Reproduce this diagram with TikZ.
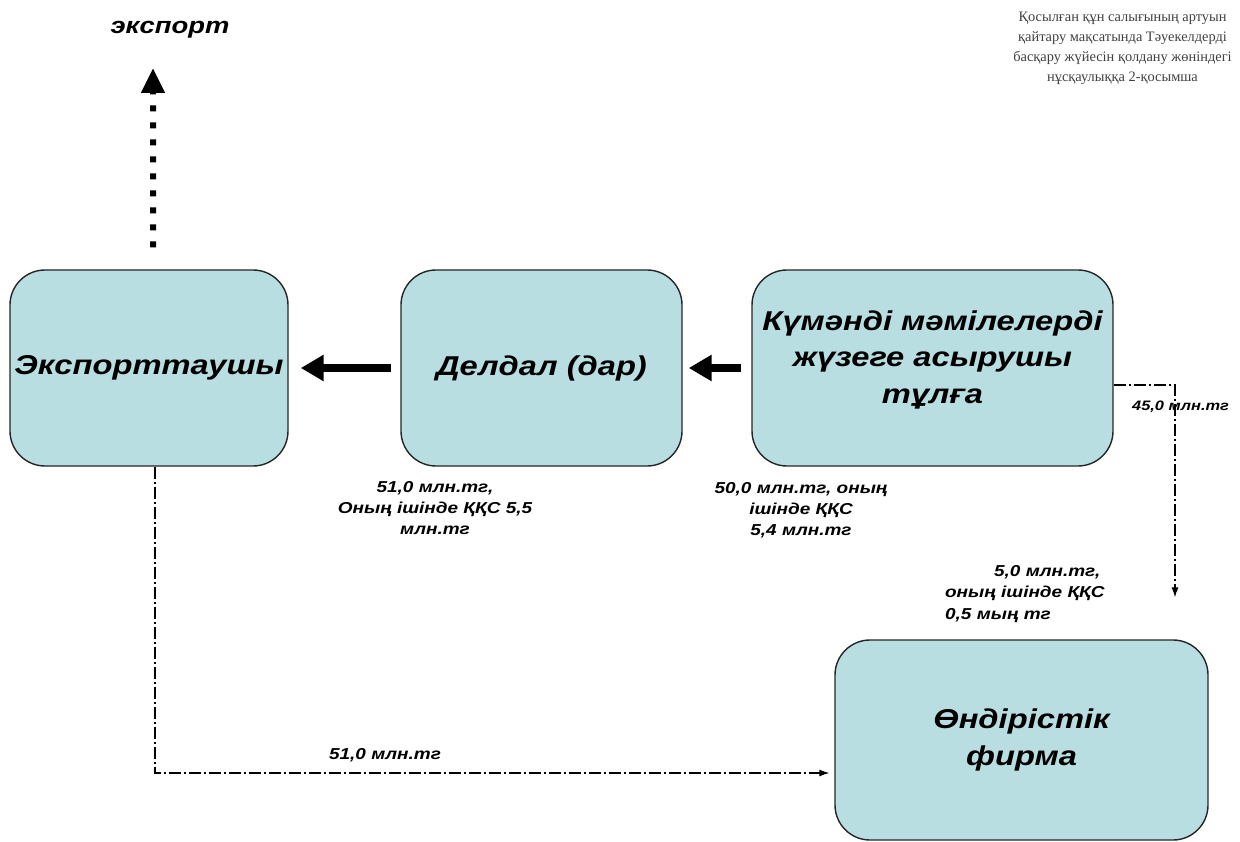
\documentclass[tikz,border=0pt]{standalone}
\usepackage{fontspec}
\setmainfont{Liberation Sans}[FakeStretch=1.2]
\newfontfamily\notefont{Liberation Serif}
\usetikzlibrary{arrows.meta}
\definecolor{boxfill}{RGB}{184,222,226}

\begin{document}
\begin{tikzpicture}[
    box/.style={draw=black!85, line width=0.8pt, fill=boxfill, rounded corners=0.7cm,
      font=\fontsize{15.5}{21}\selectfont\bfseries\itshape, align=center, inner sep=0pt},
    sum/.style={font=\fontsize{9}{12}\selectfont\bfseries\itshape, align=center, inner sep=1pt},
    bigarr/.style={line width=4pt, -{Triangle[length=0.46cm,width=0.5cm]}},
    flow/.style={line width=0.6pt, dash pattern=on 0.24cm off 0.06cm on 0.04cm off 0.06cm,
      -{Latex[length=0.2cm,width=0.14cm]}}
  ]
    \useasboundingbox (0,0) rectangle (24.8,16.82);

    % Блоктар
    \node[box, minimum width=5.56cm, minimum height=3.92cm] (exporter) at (2.98,9.46) {Экспорттаушы};
    \node[box, minimum width=5.62cm, minimum height=3.92cm] (broker) at (10.83,9.46) {Делдал (дар)};
    \node[box, minimum width=7.22cm, minimum height=3.92cm] (dubious) at (18.65,9.46) {Күмәнді мәмілелерді\\жүзеге асырушы\\тұлға\\[-0.3cm]};
    \node[box, minimum width=7.46cm, minimum height=4.0cm] (firm) at (20.43,2.02) {Өндірістік\\фирма};

    % Экспорт
    \node[font=\fontsize{13}{15}\selectfont\bfseries\itshape] (exportlbl) at (3.4,16.22) {экспорт};
    \coordinate (exporttip) at (3.06,15.46);

    % Тауар ағыны
    \draw[bigarr, shorten <=0.18cm, shorten >=0.24cm] (broker.west) -- (exporter.east);
    \draw[bigarr, shorten <=0.2cm, shorten >=0.12cm] (dubious.west) -- (broker.east);
    \draw[line width=0.12cm, dash pattern=on 0.12cm off 0.22cm, -{Triangle[length=0.5cm,width=0.45cm]},
      shorten <=0.44cm] ([xshift=0.08cm]exporter.north) -- (exporttip);

    % Ақша ағыны
    \draw[flow, shorten >=0.84cm] ([yshift=-0.34cm]dubious.east) -| ([xshift=3.07cm]firm.north);
    \draw[flow, shorten >=0.1cm] ([xshift=0.12cm]exporter.south) |- ([yshift=-0.66cm]firm.west);

    % Сомалар
    \node[sum] (sumbroker) at (8.7,6.66) {51,0 млн.тг,\\Оның ішінде ҚҚС 5,5\\млн.тг};
    \node[sum] (sumdubious) at (16.02,6.62) {50,0 млн.тг, оның\\ішінде ҚҚС\\5,4 млн.тг};
    \node[sum, anchor=west, align=left] (sumfirm) at (18.86,4.94) {\hspace*{0.98cm}5,0 млн.тг,\\оның ішінде ҚҚС\\0,5 мың тг};
    \node[sum, anchor=west, font=\fontsize{7.8}{10}\selectfont\bfseries\itshape] (sumback) at (22.6,8.68) {45,0 млн.тг};
    \node[sum] (sumexport) at (7.7,1.72) {51,0 млн.тг};

    % Қосымша
    \node[font=\notefont\fontsize{8.2}{11.5}\selectfont, align=center, text=black!75] (note) at (22.45,15.85)
      {Қосылған құн салығының артуын\\қайтару мақсатында Тәуекелдерді\\басқару жүйесін қолдану жөніндегі\\нұсқаулыққа 2-қосымша};
\end{tikzpicture}
\end{document}
